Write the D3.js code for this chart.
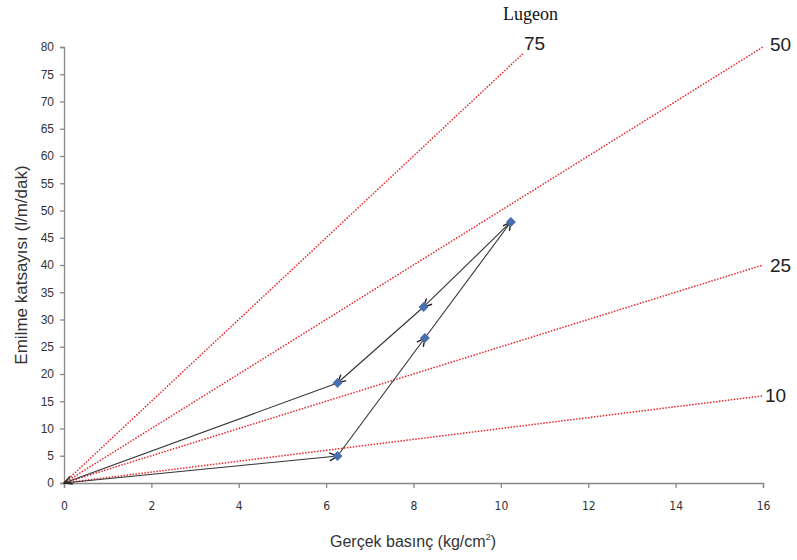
<!DOCTYPE html>
<html><head><meta charset="utf-8">
<script src="https://cdn.jsdelivr.net/npm/d3@7"></script>
<style>body{margin:0;background:#fff}</style>
</head><body>
<svg id="c" width="797" height="560"></svg>
<script>
const xTicks = [0,2,4,6,8,10,12,14,16];
const yTicks = [0,5,10,15,20,25,30,35,40,45,50,55,60,65,70,75,80];
const lugeonValues = [75, 50, 25, 10];
const lugeonXEnd = [10.5, 16, 16, 16];
const pathX = [0, 6.26, 8.26, 10.23, 8.23, 6.26, 0];
const pathY = [0, 4.95, 26.6, 47.9, 32.3, 18.35, 0];

const svg = d3.select("#c");
const x = d3.scaleLinear().domain([0,16]).range([64,763]);
const y = d3.scaleLinear().domain([0,80]).range([483,47]);

svg.append("defs").append("marker")
  .attr("id","arr").attr("viewBox","0 0 10 10").attr("refX",9).attr("refY",5)
  .attr("markerWidth",10).attr("markerHeight",10).attr("markerUnits","userSpaceOnUse")
  .attr("orient","auto")
  .append("path").attr("d","M1,1 L9,5 L1,9").attr("fill","none").attr("stroke","#222").attr("stroke-width",1.4);

// axes
const gx = svg.append("g").attr("transform",`translate(0,${y(0)})`)
  .call(d3.axisBottom(x).tickValues(xTicks).tickSize(5).tickPadding(13).tickFormat(d3.format("d")));
const gy = svg.append("g").attr("transform",`translate(${x(0)},0)`)
  .call(d3.axisLeft(y).tickValues(yTicks).tickSize(4).tickPadding(6).tickFormat(d3.format("d")));
[gx,gy].forEach(g=>{
  g.select(".domain").attr("stroke","#888").attr("stroke-width",1.3);
  g.selectAll(".tick line").attr("stroke","#888").attr("stroke-width",1.3);
  g.selectAll(".tick text").attr("fill","#333")
    .attr("font-family","'Liberation Sans',Arial,sans-serif").attr("font-size","12px");
});
gx.selectAll(".tick text").attr("font-family","'DejaVu Sans Condensed','Liberation Sans',sans-serif").attr("font-size","12px");

// lugeon lines
lugeonValues.forEach((L,i)=>{
  const xe = lugeonXEnd[i], ye = L/10*xe;
  svg.append("line").attr("x1",x(0)).attr("y1",y(0)).attr("x2",x(xe)).attr("y2",y(ye))
    .attr("stroke","#e8262a").attr("stroke-width",1.5).attr("stroke-dasharray","1.5,1.5");
});
const lblPos = [[524,50],[770,51],[770,272],[765,402]];
lugeonValues.forEach((L,i)=>{
  svg.append("text").attr("x",lblPos[i][0]).attr("y",lblPos[i][1]).text(L)
    .attr("font-family","'Liberation Sans',Arial,sans-serif").attr("font-size","19px").attr("fill","#222");
});
svg.append("text").attr("x",503).attr("y",20).text("Lugeon")
  .attr("font-family","'Liberation Serif','Times New Roman',serif").attr("font-size","18px").attr("fill","#111");

// path with arrows
for(let i=0;i<pathX.length-1;i++){
  svg.append("line").attr("x1",x(pathX[i])).attr("y1",y(pathY[i]))
    .attr("x2",x(pathX[i+1])).attr("y2",y(pathY[i+1]))
    .attr("stroke","#333").attr("stroke-width",1.1).attr("marker-end","url(#arr)");
}
// diamonds
svg.selectAll(".pt").data(pathX.slice(1,6).map((v,i)=>[v,pathY[i+1]])).enter()
  .append("path").attr("d",d3.symbol(d3.symbolSquare,50))
  .attr("transform",d=>`translate(${x(d[0])},${y(d[1])}) rotate(45)`).attr("fill","#4a6fb0");

// titles
svg.append("text").attr("x",413).attr("y",547).attr("text-anchor","middle")
  .attr("font-family","'Liberation Sans',Arial,sans-serif").attr("font-size","16px").attr("fill","#333")
  .html('Gerçek basınç (kg/cm<tspan font-size="9px" dy="-7">2</tspan><tspan dy="7">)</tspan>');
svg.append("text").attr("transform","translate(27,265) rotate(-90)").attr("text-anchor","middle")
  .attr("font-family","'Liberation Sans',Arial,sans-serif").attr("font-size","17px").attr("fill","#333")
  .text("Emilme katsayısı (l/m/dak)");
</script>
</body></html>
